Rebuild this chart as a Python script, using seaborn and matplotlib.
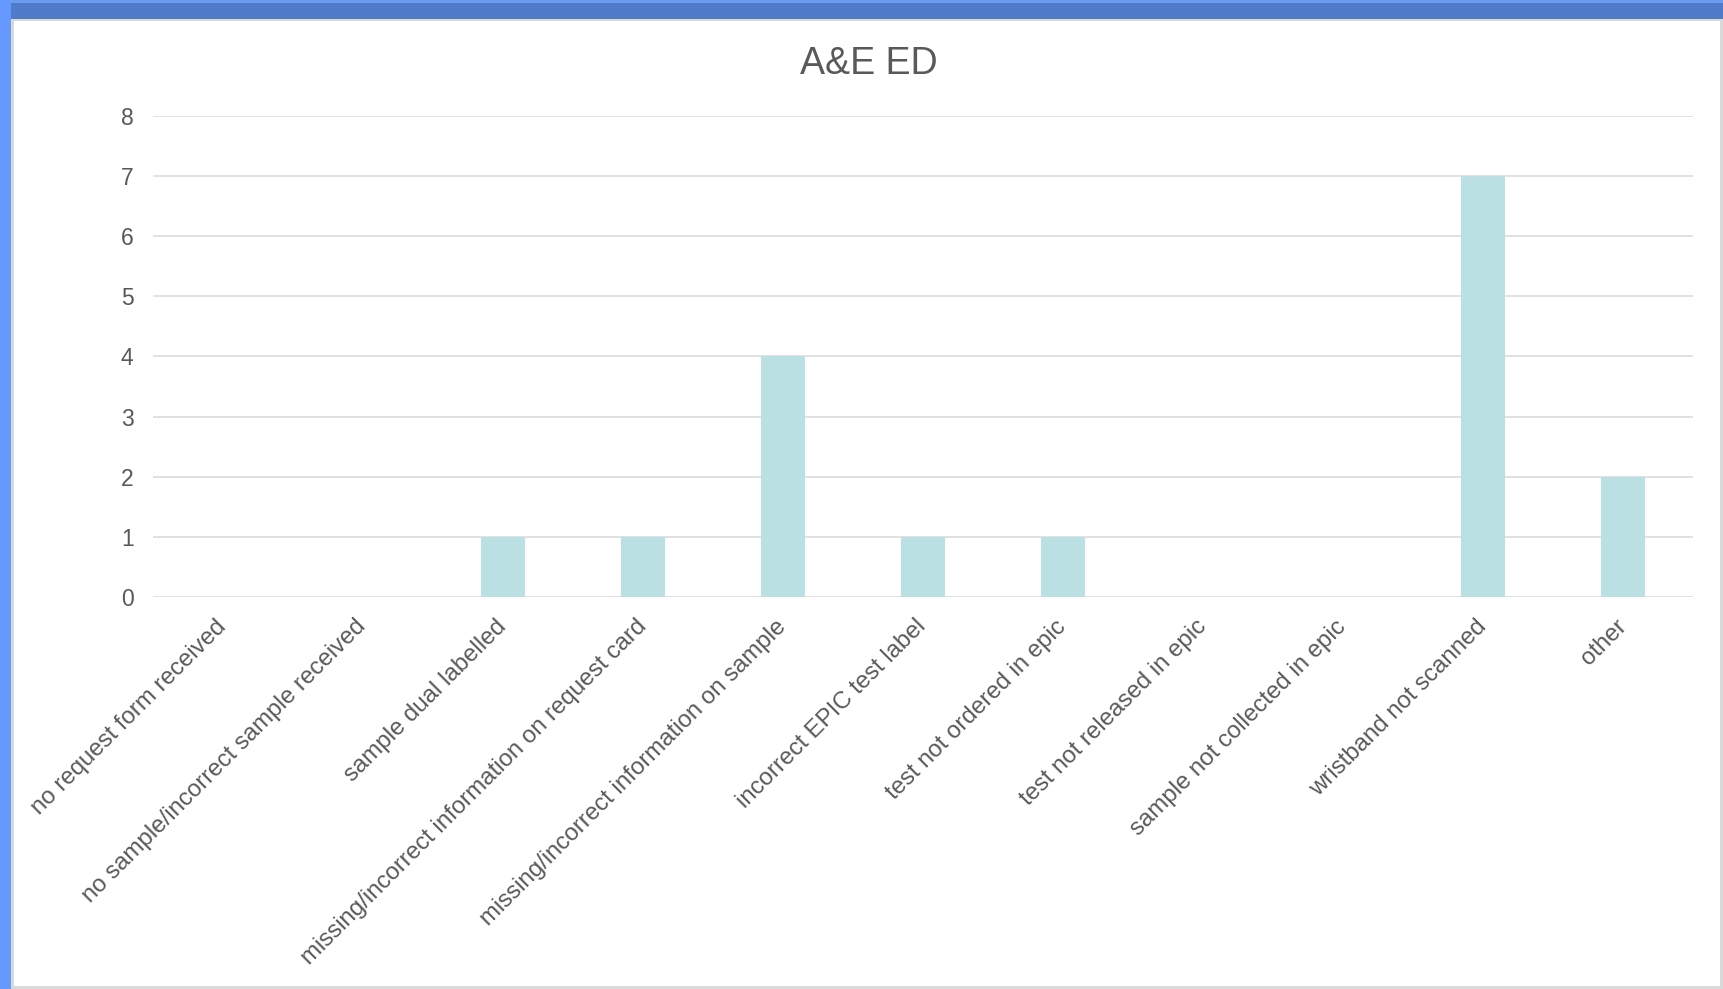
import matplotlib
matplotlib.use("Agg")
import matplotlib.pyplot as plt
import seaborn as sns
import pandas as pd
from matplotlib.patches import Rectangle

categories = [
    "no request form received",
    "no sample/incorrect sample received",
    "sample dual labelled",
    "missing/incorrect information on request card",
    "missing/incorrect information on sample",
    "incorrect EPIC test label",
    "test not ordered in epic",
    "test not released in epic",
    "sample not collected in epic",
    "wristband not scanned",
    "other",
]
counts = [0, 0, 1, 1, 4, 1, 1, 0, 0, 7, 2]
yticks = [0, 1, 2, 3, 4, 5, 6, 7, 8]
title = "A&E ED"

sns.set_theme(style="white")
plt.rcParams["font.family"] = ["Liberation Sans", "DejaVu Sans"]

W, H = 1724, 989
fig = plt.figure(figsize=(W / 100, H / 100), dpi=100)
fig.patch.set_facecolor("white")

# window frame
def frect(x0, y0, x1, y1, color):
    fig.add_artist(Rectangle((x0 / W, 1 - y1 / H), (x1 - x0) / W, (y1 - y0) / H,
                             transform=fig.transFigure, color=color, lw=0, zorder=0))

frect(0, 0, W, 19, "#4F7BC8")
frect(0, 0, W, 3, "#6A9AF2")
frect(0, 0, 11, H, "#6699FF")
frect(11, 19, W, 21, "#D9D9D9")
frect(11, 19, 14, H, "#D9D9D9")
frect(1720, 19, 1723, H, "#D9D9D9")
frect(1723, 19, W, H, "#4F7BC8")
frect(11, 986, 1723, H, "#D9D9D9")

ax = fig.add_axes([153 / W, 1 - 597 / H, (1693 - 153) / W, (597 - 115.7) / H])
ax.set_facecolor("none")

df = pd.DataFrame({"category": categories, "count": counts})
sns.barplot(data=df, x="category", y="count", color="#BBE0E3", width=0.314,
            saturation=1, ax=ax, zorder=3)
for p in ax.patches:
    p.set_edgecolor("none")

ax.set_ylim(0, 8)
ax.set_xlim(-0.5, len(categories) - 0.5)
ax.set_yticks(yticks)
ax.set_yticklabels([str(v) for v in yticks])
ax.yaxis.grid(True, color="#D9D9D9", linewidth=1.1)
ax.set_axisbelow(True)
for s in ax.spines.values():
    s.set_visible(False)
ax.tick_params(axis="both", length=0, colors="#595959")
ax.tick_params(axis="y", labelsize=16.5, pad=14)
ax.tick_params(axis="x", labelsize=17.3, pad=19)
ax.set_xlabel("")
ax.set_ylabel("")
for lbl in ax.get_xticklabels():
    lbl.set_rotation(45)
    lbl.set_ha("right")
    lbl.set_va("center")
    lbl.set_rotation_mode("anchor")
    lbl.set_color("#595959")

fig.text(0.5 * (W + 14) / W, 1 - 64 / H, title, ha="center", va="center",
         fontsize=27, color="#595959")

fig.savefig("out.png", dpi=100, facecolor="white")
